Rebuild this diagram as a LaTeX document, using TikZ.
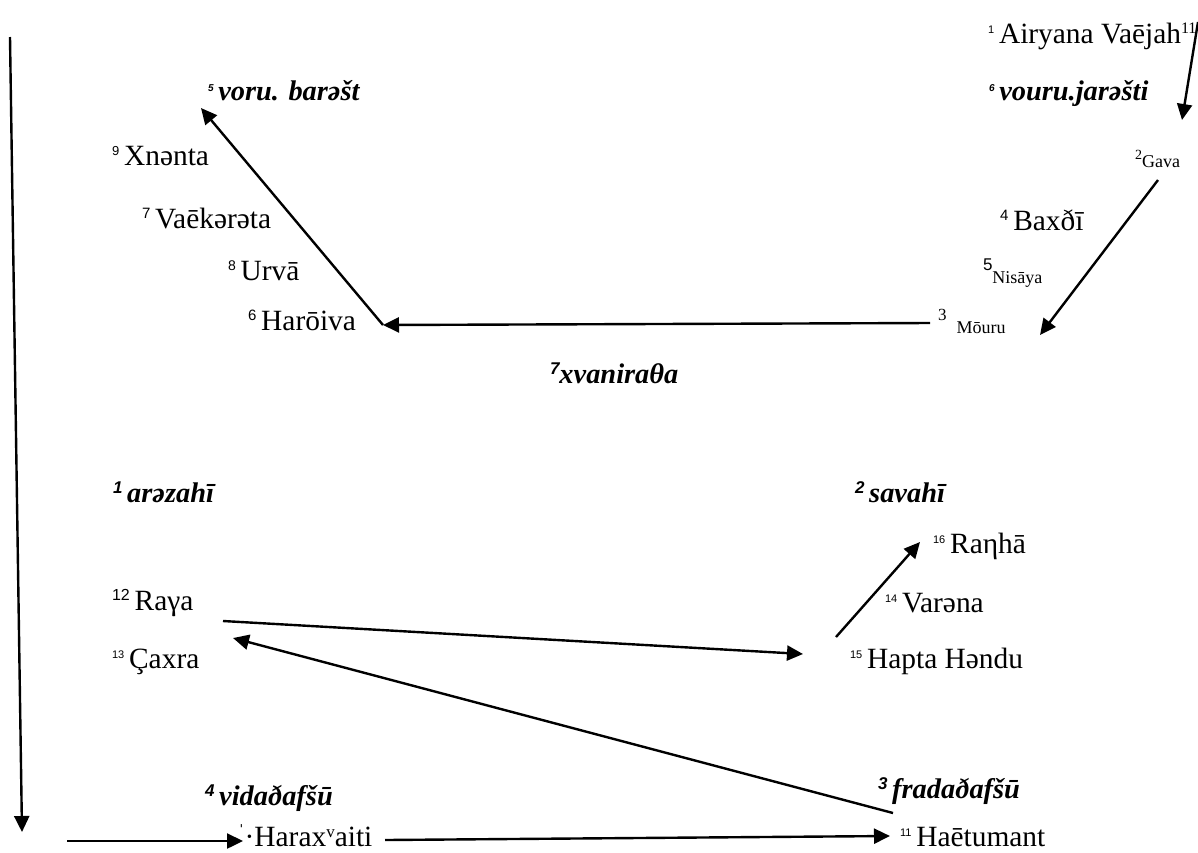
\documentclass[tikz,border=0pt]{standalone}
\usepackage{fontspec}
\setmainfont{Liberation Serif}
\setsansfont{Liberation Sans}
\usetikzlibrary{arrows.meta}
% small raised numbers in front of the names
\newcommand{\supA}[2][6.5]{\raisebox{5pt}{\sffamily\fontsize{#1}{#1}\selectfont #2}}
\newcommand{\supB}[2][5]{\raisebox{4.5pt}{\sffamily\bfseries\fontsize{#1}{#1}\selectfont #2}}
\tikzset{
        labelnode/.style={anchor=base west, inner sep=0pt, outer sep=0pt},
        % Place names
        node_place/.style={labelnode, font=\fontsize{14.7}{16}\selectfont},
        % Small place names
        node_small/.style={labelnode, font=\fontsize{9}{10}\selectfont},
        % Regions
        node_region/.style={labelnode, font=\fontsize{14.2}{16}\selectfont\bfseries\itshape},
        % Routes
        edge_route/.style={line width=1.2pt, -{Triangle[length=8pt, width=7.5pt]}}
}
\begin{document}
\begin{tikzpicture}[x={(0.5pt,0)}, y={(0,-0.5pt)}]
            \useasboundingbox (0,0) rectangle (1198,852);
            % upper part
            \node[node_place] (airyana) at (988,43) {\supA[5.5]{1}\,Airyana Vaējah\raisebox{5pt}{\fontsize{8}{8}\selectfont 11}};
            \node[node_region] (vouru) at (989,100) {\supB{6}\,vouru.jarəšti};
            \node[node_small] (gava) at (1135,167) {\raisebox{4pt}{\fontsize{7}{7}\selectfont 2}Gava};
            \node[node_place] (baxdi) at (1000,230) {\supA[7.5]{4}\,Baxðī};
            \node[node_small] (nisaya) at (983,283) {\raisebox{6.5pt}{\sffamily\fontsize{8.5}{9}\selectfont 5}Nisāya};
            \node[node_small] (mouru) at (938,333) {\raisebox{6.5pt}{\fontsize{8.5}{9}\selectfont 3}\hspace{5pt}Mōuru};
            \node[node_region] (voru) at (208,100) {\supB{5}\,voru. barəšt};
            \node[node_place] (xnenta) at (112,165) {\supA{9}\,Xnənta};
            \node[node_place] (vaekereta) at (142,228) {\supA[7.5]{7}\,Vaēkərəta};
            \node[node_place] (urva) at (228,280) {\supA[7]{8}\,Urvā};
            \node[node_place] (haroiva) at (248,330) {\supA[7.5]{6}\,Harōiva};
            \node[node_region] (xvanira) at (550,383) {\supB[8.5]{7}xvaniraθa};
            % middle part
            \node[node_region] (arezahi) at (113,502) {\supB[8.5]{1}\,arəzahī};
            \node[node_place] (raya) at (112,610) {\supA[8]{12}\,Raγa};
            \node[node_place] (caxra) at (112,668) {\supA[5.5]{13}\,Çaxra};
            \node[node_region] (savahi) at (855,502) {\supB[8.5]{2}\,savahī};
            \node[node_place] (ranha) at (933,553) {\supA[5.5]{16}\,Raηhā};
            \node[node_place] (varena) at (885,612) {\supA[5.5]{14}\,Varəna};
            \node[node_place] (hapta) at (850,668) {\supA[5.5]{15}\,Hapta Həndu};
            % lower part
            \node[node_region] (vidad) at (205,805) {\supB[8.5]{4}\,vidaðafšū};
            \node[node_region] (frada) at (878,798) {\supB[8.5]{3}\,fradaðafšū};
            \node[node_place] (harax) at (238,846) {\raisebox{4pt}{\fontsize{10}{10}\selectfont ˈ}·Harax\raisebox{4.5pt}{\fontsize{8.5}{9}\selectfont v}aiti};
            \node[node_place] (haetumant) at (900,846) {\supA[5.5]{11}\,Haētumant};
            % end points of the routes
            \coordinate (lefttop) at (10,37);
            \coordinate (leftbot) at (22,832);
            \coordinate (bottomin) at (67,841);
            \coordinate (haraxin) at (243,841);
            \coordinate (haraxout) at (385,840);
            \coordinate (haetin) at (890,836);
            \coordinate (fradaout) at (893,813);
            \coordinate (caxrain) at (233,638);
            \coordinate (rayaout) at (223,621);
            \coordinate (haptain) at (803,654);
            \coordinate (haptaout) at (836,637);
            \coordinate (ranhain) at (920,542);
            \coordinate (airyout) at (1198,22);
            \coordinate (gavain) at (1182,120);
            \coordinate (gavaout) at (1158,180);
            \coordinate (mouruin) at (1040,335);
            \coordinate (mouruout) at (930,323);
            \coordinate (haroin) at (383,325);
            \coordinate (voruin) at (201,108);
            % routes
            \draw[edge_route] (lefttop) -- (leftbot);
            \draw[edge_route] (bottomin) -- (haraxin);
            \draw[edge_route] (haraxout) -- (haetin);
            \draw[edge_route] (fradaout) -- (caxrain);
            \draw[edge_route] (rayaout) -- (haptain);
            \draw[edge_route] (haptaout) -- (ranhain);
            \draw[edge_route] (airyout) -- (gavain);
            \draw[edge_route] (gavaout) -- (mouruin);
            \draw[edge_route] (mouruout) -- (haroin);
            \draw[edge_route] (haroin) -- (voruin);
\end{tikzpicture}
\end{document}
